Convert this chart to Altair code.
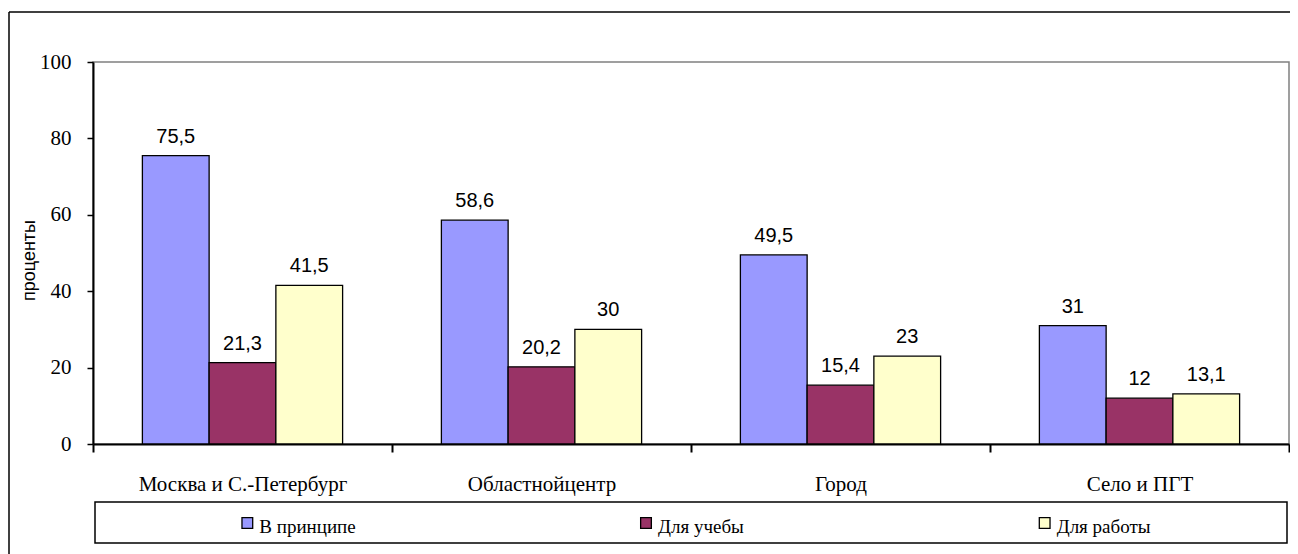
import altair as alt
import pandas as pd

categories = ["Москва и С.-Петербург", "Областнойцентр", "Город", "Село и ПГТ"]
series = ["В принципе", "Для учебы", "Для работы"]
in_principle = [75.5, 58.6, 49.5, 31]
for_study = [21.3, 20.2, 15.4, 12]
for_work = [41.5, 30, 23, 13.1]
colors = ["#9999FF", "#993366", "#FFFFCC"]
y_ticks = [0, 20, 40, 60, 80, 100]


def fmt(v):
    return f"{v:g}".replace(".", ",")


rows = []
for s, vals in zip(series, [in_principle, for_study, for_work]):
    for c, v in zip(categories, vals):
        rows.append({"category": c, "series": s, "value": v, "label": fmt(v)})
df = pd.DataFrame(rows)
legend_df = pd.DataFrame({"series": series})
one = pd.DataFrame({"k": [0]})

W, H = 1196, 382
SERIF = "Liberation Serif"
SANS = "Liberation Sans"

color = alt.Color("series:N", sort=series,
                  scale=alt.Scale(domain=series, range=colors), legend=None)
x_scale = alt.Scale(domain=categories, paddingInner=0, paddingOuter=0)
xoff = alt.XOffset("series:N", sort=series,
                   scale=alt.Scale(domain=series, paddingInner=0, paddingOuter=0.74))
y_axis = alt.Axis(values=y_ticks, grid=False, title="проценты",
                  titleFont=SANS, titleFontSize=18, titleFontWeight="normal",
                  titleColor="black", titleX=-59, titleY=198,
                  titleBaseline="alphabetic",
                  labelFont=SERIF, labelFontSize=21, labelColor="black",
                  labelPadding=16, tickSize=6, tickColor="black", tickWidth=1.5,
                  domainColor="black", domainWidth=2)
y_enc = alt.Y("value:Q", scale=alt.Scale(domain=[0, 100], nice=False), axis=y_axis)
x_axis = alt.Axis(title=None, labelAngle=0, tickBand="extent", labelLimit=500,
                  labelFont=SERIF, labelFontSize=21, labelColor="black",
                  labelPadding=21, tickSize=8, tickColor="black", tickWidth=2,
                  domainColor="black", domainWidth=2)
x_enc = alt.X("category:N", sort=categories, scale=x_scale, axis=x_axis)

bars = alt.Chart(df).mark_bar(stroke="black", strokeWidth=1.3).encode(
    x=x_enc,
    xOffset=xoff,
    y=y_enc,
    color=color,
)
labels = alt.Chart(df).mark_text(font=SANS, fontSize=20, baseline="alphabetic",
                                 dy=-13, color="black").encode(
    x=x_enc,
    xOffset=xoff,
    y=y_enc,
    text="label:N",
)
main = alt.layer(bars, labels)

leg_x = alt.X("series:N", sort=series,
              scale=alt.Scale(domain=series, paddingInner=0, paddingOuter=0.336),
              axis=None)
legend_sq = alt.Chart(legend_df).mark_square(
    size=115, opacity=1, filled=True, stroke="black", strokeWidth=1.3, xOffset=-45
).encode(x=leg_x, y=alt.value(H + 79), color=color)
legend_tx = alt.Chart(legend_df).mark_text(
    font=SERIF, fontSize=19, align="left", baseline="alphabetic", dx=-33, color="black"
).encode(x=leg_x, y=alt.value(H + 89), text="series:N")
legend = alt.layer(legend_sq, legend_tx)

legend_box = alt.Chart(one).mark_rect(fill="transparent", stroke="black", strokeWidth=1.5).encode(
    x=alt.value(2), x2=alt.value(W - 2), y=alt.value(H + 58), y2=alt.value(H + 99))
frame_top = alt.Chart(one).mark_rule(color="black", strokeWidth=1.5).encode(
    x=alt.value(-84), x2=alt.value(W + 1), y=alt.value(-50))
frame_left = alt.Chart(one).mark_rule(color="black", strokeWidth=1.5).encode(
    x=alt.value(-84), y=alt.value(-50), y2=alt.value(H + 110))

chart = alt.layer(frame_top, frame_left, legend_box, main, legend).resolve_scale(
    x="independent", xOffset="independent"
).properties(
    width=W, height=H,
    autosize=alt.AutoSizeParams(type="none"),
    padding={"left": 85, "top": 54, "right": 1, "bottom": 110},
).configure_view(stroke="#808080", strokeWidth=1.5)

chart.save("out.html", embed_options={"renderer": "svg", "actions": False})
